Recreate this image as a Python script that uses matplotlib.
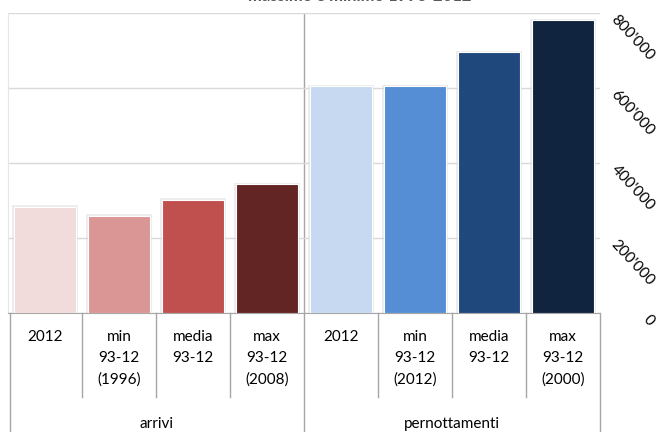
import matplotlib.pyplot as plt
from matplotlib.ticker import FuncFormatter

plt.rcParams['font.family'] = ['Lato', 'DejaVu Sans']

# dati
gruppi = ["arrivi", "pernottamenti"]
etichette = ["2012", "min\n93-12\n(1996)", "media\n93-12", "max\n93-12\n(2008)",
             "2012", "min\n93-12\n(2012)", "media\n93-12", "max\n93-12\n(2000)"]
arrivi = [283000, 259000, 301000, 343000]
pernottamenti = [604000, 604000, 694000, 780000]

col_arrivi = ["#f2dcdb", "#da9694", "#c0504d", "#632523"]
col_pern = ["#c6d9f1", "#558ed5", "#1f497d", "#10243f"]

valori = arrivi + pernottamenti
colori = col_arrivi + col_pern
x = list(range(len(valori)))

fig = plt.figure(figsize=(6.62, 4.32), dpi=100)
ax = fig.add_axes([8 / 662, (432 - 312.7) / 432, 592 / 662, 300 / 432])

# ombre
ax.bar(x, [v + 4000 for v in valori], width=0.89, color="#d9d9d9", alpha=0.45, zorder=2)
ax.bar(x, valori, width=0.84, color=colori, edgecolor="white", linewidth=0.8, zorder=3)

ax.set_xlim(-0.5, 7.5)
ax.set_ylim(0, 800000)
ax.set_yticks([0, 200000, 400000, 600000, 800000])
ax.yaxis.set_major_formatter(FuncFormatter(lambda v, p: "0" if v == 0 else f"{int(v):,}".replace(",", "'")))
ax.yaxis.tick_right()
ax.tick_params(axis="y", length=0, pad=41, labelsize=11)
for t in ax.get_yticklabels():
    t.set_rotation(-47)
    t.set_ha("right")
    t.set_va("top")
ax.grid(axis="y", color="#d9d9d9", linewidth=1, zorder=0)
ax.set_xticks([])
for s in ["top", "right"]:
    ax.spines[s].set_visible(False)
ax.spines["left"].set_color("#e6e6e6")
ax.spines["bottom"].set_color("#a6a6a6")

# divisore tra i gruppi
ax.axvline(3.5, color="#a6a6a6", linewidth=1, zorder=1)

# tabella delle categorie
tr = ax.get_xaxis_transform()
for b in [0.5, 1.5, 2.5, 4.5, 5.5, 6.5]:
    ax.plot([b, b], [0, -0.281], transform=tr, color="#a6a6a6", lw=1, clip_on=False)
for b in [-0.47, 3.5, 7.5]:
    ax.plot([b, b], [0, -0.41], transform=tr, color="#a6a6a6", lw=1, clip_on=False)
for i, lab in enumerate(etichette):
    ax.text(i, -0.058, lab, transform=tr, ha="center", va="top", fontsize=11,
            linespacing=1.62, color="black")
for g, lab in enumerate(gruppi):
    ax.text(1.5 + 4 * g, -0.37, lab, transform=tr, ha="center", va="center",
            fontsize=11, color="black")

fig.text(360 / 662, 1.0 + 4 / 432, "massimo e minimo 1993-2012", ha="center", va="center",
         fontsize=12, fontweight="bold", color="#595959")

fig.savefig("out.png", dpi=100)
